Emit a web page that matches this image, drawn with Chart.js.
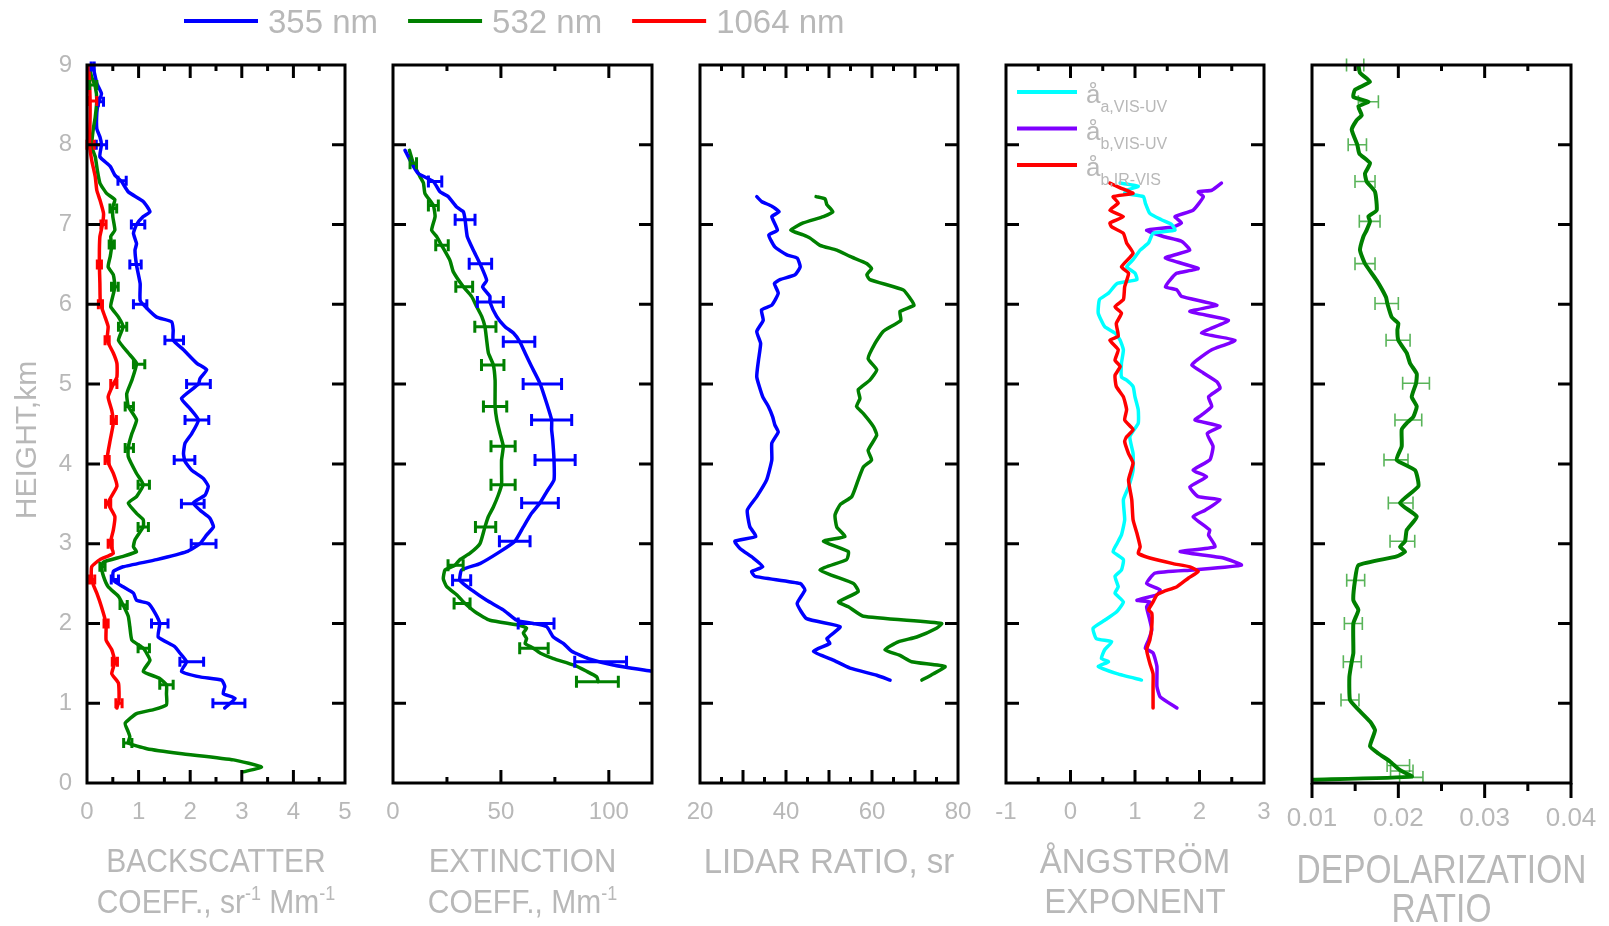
<!DOCTYPE html>
<html>
<head>
<meta charset="utf-8">
<title>Aerosol optical profiles</title>
<script src="https://cdn.jsdelivr.net/npm/chart.js@4.4.1/dist/chart.umd.min.js"></script>
<style>
  html, body { margin: 0; padding: 0; background: #ffffff; }
  #wrap { position: relative; width: 1609px; height: 926px; overflow: hidden; }
  #wrap canvas { position: absolute; left: 0; top: 0; }
</style>
</head>
<body>
<div id="wrap">
  <canvas id="pBsc" width="1700" height="926"></canvas>
  <canvas id="pExt" width="1700" height="926"></canvas>
  <canvas id="pLr" width="1700" height="926"></canvas>
  <canvas id="pAe" width="1700" height="926"></canvas>
  <canvas id="pDep" width="1700" height="926"></canvas>
</div>
<script>
// ---- tick labels ----
const heightTicks = [0, 1, 2, 3, 4, 5, 6, 7, 8, 9];
const bscTicks = [0, 1, 2, 3, 4, 5];
const extTicks = [0, 50, 100];
const lrTicks = [20, 40, 60, 80];
const aeTicks = [-1, 0, 1, 2, 3];
const depTicks = [0.01, 0.02, 0.03, 0.04];

// ---- profiles: [height km, value] ----
const bsc355 = [[9.0,0.11],[8.77,0.19],[8.64,0.28],[8.52,0.22],[8.4,0.19],[8.2,0.19],[8.1,0.25],[8.0,0.28],[7.85,0.25],[7.73,0.45],[7.62,0.54],[7.54,0.67],[7.41,0.80],[7.29,1.09],[7.16,1.22],[7.1,1.09],[7.0,0.96],[6.89,0.90],[6.76,0.96],[6.68,0.93],[6.49,0.96],[6.26,1.03],[6.05,1.03],[5.95,1.16],[5.84,1.35],[5.78,1.64],[5.68,1.67],[5.55,1.67],[5.43,1.87],[5.26,2.13],[5.18,2.32],[5.07,2.19],[5.0,2.16],[4.82,1.83],[4.69,2.0],[4.55,2.16],[4.38,2.03],[4.26,1.90],[4.13,1.87],[4.03,1.90],[3.92,2.03],[3.82,2.25],[3.72,2.35],[3.61,2.29],[3.51,2.06],[3.42,2.19],[3.32,2.38],[3.21,2.45],[3.11,2.32],[3.0,2.19],[2.90,1.93],[2.80,1.35],[2.71,0.70],[2.65,0.51],[2.54,0.51],[2.46,0.70],[2.38,0.90],[2.29,0.96],[2.25,1.19],[2.13,1.32],[2.0,1.41],[1.83,1.38],[1.71,1.70],[1.63,1.80],[1.52,1.93],[1.40,1.83],[1.33,2.19],[1.29,2.61],[1.21,2.67],[1.12,2.64],[1.06,2.87],[0.94,2.67]];
const bsc532 = [[9.0,0.03],[8.85,0.09],[8.73,0.16],[8.56,0.19],[8.35,0.16],[8.19,0.12],[7.98,0.09],[7.85,0.16],[7.68,0.20],[7.52,0.25],[7.39,0.38],[7.31,0.54],[7.22,0.50],[7.1,0.50],[6.93,0.54],[6.85,0.46],[6.74,0.48],[6.6,0.45],[6.47,0.41],[6.37,0.51],[6.22,0.54],[6.05,0.48],[5.97,0.46],[5.84,0.61],[5.72,0.70],[5.55,0.61],[5.39,0.80],[5.26,0.96],[5.05,0.87],[4.88,0.77],[4.72,0.80],[4.55,0.96],[4.38,0.87],[4.21,0.80],[4.09,0.80],[3.88,0.96],[3.74,1.09],[3.59,0.96],[3.51,0.80],[3.38,0.96],[3.30,1.09],[3.21,1.09],[3.05,0.93],[2.96,0.90],[2.90,0.96],[2.84,0.70],[2.77,0.32],[2.71,0.28],[2.59,0.32],[2.46,0.41],[2.34,0.61],[2.23,0.70],[2.09,0.80],[1.96,0.83],[1.79,0.87],[1.69,1.09],[1.54,1.22],[1.40,1.09],[1.31,1.41],[1.23,1.54],[1.12,1.54],[0.98,1.54],[0.92,1.29],[0.87,0.96],[0.75,0.74],[0.64,0.80],[0.58,0.83],[0.50,0.80],[0.43,1.16],[0.37,1.80],[0.29,2.84],[0.20,3.38],[0.14,3.03]];
const bsc1064 = [[9.0,0.03],[8.77,0.05],[8.56,0.06],[8.35,0.06],[8.0,0.05],[7.81,0.09],[7.6,0.16],[7.43,0.19],[7.31,0.25],[7.14,0.32],[7.0,0.30],[6.85,0.25],[6.68,0.24],[6.49,0.24],[6.26,0.25],[6.01,0.26],[5.84,0.35],[5.72,0.41],[5.55,0.39],[5.39,0.51],[5.26,0.58],[5.09,0.58],[5.0,0.51],[4.84,0.41],[4.67,0.48],[4.51,0.51],[4.30,0.45],[4.05,0.39],[3.88,0.51],[3.72,0.58],[3.51,0.41],[3.34,0.54],[3.17,0.51],[3.0,0.45],[2.88,0.51],[2.80,0.25],[2.71,0.09],[2.54,0.09],[2.38,0.19],[2.21,0.28],[2.0,0.37],[1.79,0.37],[1.67,0.48],[1.52,0.54],[1.37,0.48],[1.25,0.61],[1.04,0.62],[0.94,0.58]];

const ext355 = [[7.93,5.6],[7.77,8.6],[7.64,11.7],[7.54,18.7],[7.41,21.8],[7.35,25.6],[7.22,29.5],[7.16,32.6],[7.06,33.4],[6.85,34.4],[6.68,37.2],[6.51,40.3],[6.30,43.4],[6.22,41.5],[6.10,44.9],[6.03,44.9],[5.85,48.0],[5.72,51.9],[5.64,55.8],[5.53,58.8],[5.39,61.2],[5.22,64.2],[5.01,68.1],[4.76,71.2],[4.55,73.5],[4.43,73.5],[4.30,74.0],[4.05,74.6],[3.80,74.6],[3.65,71.2],[3.51,68.1],[3.38,64.2],[3.21,60.4],[3.03,56.5],[2.90,49.6],[2.75,40.3],[2.67,31.8],[2.54,31.0],[2.42,36.4],[2.29,43.4],[2.17,51.1],[2.04,57.3],[2.0,65.0],[1.96,71.2],[1.83,74.3],[1.75,78.9],[1.65,82.8],[1.56,90.5],[1.48,102.0],[1.40,119.8]];
const ext532 = [[7.93,7.6],[7.77,9.4],[7.6,12.5],[7.52,14.1],[7.39,14.8],[7.24,18.7],[7.1,19.5],[6.93,17.9],[6.85,20.2],[6.74,22.5],[6.55,26.4],[6.41,27.9],[6.22,32.6],[6.10,36.4],[5.97,38.8],[5.85,41.1],[5.72,42.6],[5.55,43.4],[5.39,44.2],[5.24,46.5],[5.05,47.3],[4.88,47.3],[4.72,47.3],[4.55,48.1],[4.38,49.6],[4.22,51.1],[4.05,50.3],[3.88,50.3],[3.74,50.3],[3.61,48.8],[3.46,46.5],[3.34,44.2],[3.21,42.6],[3.0,40.3],[2.88,35.7],[2.80,31.0],[2.73,28.7],[2.67,24.1],[2.56,23.3],[2.46,24.9],[2.36,29.5],[2.25,33.4],[2.13,38.8],[2.04,44.9],[1.98,58.1],[1.94,61.9],[1.88,60.4],[1.81,61.9],[1.75,61.2],[1.69,65.0],[1.63,68.1],[1.56,74.3],[1.48,83.6],[1.40,89.7],[1.33,94.4],[1.27,95.1]];

const lr355 = [[7.35,33.2],[7.29,34.3],[7.23,36.7],[7.16,38.4],[7.10,36.7],[6.93,38.0],[6.87,36.0],[6.72,37.4],[6.62,40.2],[6.58,42.6],[6.47,43.3],[6.37,42.1],[6.31,38.6],[6.26,37.3],[6.14,38.2],[5.99,36.7],[5.93,34.3],[5.80,34.7],[5.66,33.2],[5.51,34.1],[5.30,33.6],[5.09,33.2],[4.84,34.6],[4.72,35.9],[4.59,36.9],[4.49,37.4],[4.40,38.2],[4.26,36.7],[4.05,36.7],[3.80,35.5],[3.59,33.2],[3.42,31.0],[3.21,31.6],[3.09,33.0],[3.03,28.1],[2.94,29.3],[2.82,32.4],[2.71,34.6],[2.65,32.0],[2.59,32.8],[2.50,43.3],[2.42,44.4],[2.25,42.6],[2.06,44.8],[1.96,52.6],[1.81,49.5],[1.75,50.2],[1.65,46.4],[1.54,51.0],[1.44,54.9],[1.35,61.1],[1.29,64.2]];
const lr532 = [[7.35,47.0],[7.32,49.1],[7.25,49.5],[7.16,50.9],[7.10,48.7],[7.02,44.0],[6.93,41.1],[6.87,44.0],[6.83,45.6],[6.74,47.9],[6.68,51.8],[6.60,54.9],[6.51,58.8],[6.45,59.9],[6.37,58.8],[6.31,59.5],[6.18,67.3],[6.08,68.8],[5.99,69.8],[5.91,66.5],[5.80,66.7],[5.66,62.6],[5.51,60.7],[5.32,59.1],[5.18,61.1],[5.05,59.5],[4.93,56.8],[4.82,57.2],[4.72,56.4],[4.63,58.0],[4.47,60.3],[4.36,61.1],[4.17,59.1],[4.05,59.9],[3.96,58.0],[3.80,56.8],[3.59,55.3],[3.49,52.6],[3.36,51.4],[3.21,51.8],[3.09,53.7],[3.03,48.7],[2.90,54.5],[2.80,54.1],[2.67,47.9],[2.50,55.7],[2.40,56.8],[2.27,52.2],[2.21,54.5],[2.09,58.0],[2.0,76.2],[1.94,75.0],[1.83,70.4],[1.77,66.1],[1.67,63.0],[1.60,66.5],[1.52,69.2],[1.46,77.0],[1.37,74.3],[1.29,71.6]];

const aeExtVisUv = [[7.52,0.77],[7.48,1.05],[7.43,0.87],[7.39,0.84],[7.35,1.13],[7.27,1.16],[7.14,1.23],[7.06,1.41],[7.0,1.57],[6.93,1.62],[6.89,1.28],[6.77,1.21],[6.68,1.08],[6.56,0.97],[6.47,0.87],[6.39,1.0],[6.31,1.03],[6.26,0.72],[6.14,0.59],[6.06,0.45],[5.89,0.43],[5.72,0.53],[5.64,0.69],[5.55,0.77],[5.43,0.82],[5.26,0.79],[5.09,0.79],[5.05,0.87],[4.97,0.97],[4.84,1.0],[4.68,1.05],[4.51,1.05],[4.34,0.92],[4.13,0.97],[3.92,0.97],[3.71,0.90],[3.55,0.82],[3.30,0.84],[3.11,0.79],[3.0,0.72],[2.90,0.66],[2.80,0.82],[2.67,0.79],[2.59,0.69],[2.46,0.74],[2.38,0.69],[2.27,0.82],[2.15,0.72],[2.04,0.53],[1.94,0.35],[1.81,0.40],[1.77,0.64],[1.67,0.53],[1.56,0.48],[1.52,0.59],[1.46,0.43],[1.37,0.72],[1.29,1.10]];
const aeBscVisUv = [[7.52,2.34],[7.43,2.19],[7.41,1.98],[7.35,2.06],[7.18,1.90],[7.10,1.62],[7.02,1.72],[6.97,1.59],[6.93,1.18],[6.85,1.44],[6.79,1.72],[6.68,1.85],[6.58,1.47],[6.45,1.98],[6.39,1.65],[6.33,1.57],[6.22,1.47],[6.18,1.65],[6.10,1.72],[5.99,2.27],[5.91,1.85],[5.80,2.45],[5.64,2.03],[5.55,2.55],[5.43,2.19],[5.30,1.96],[5.24,1.88],[5.14,2.06],[5.03,2.27],[4.95,2.32],[4.84,2.14],[4.72,2.19],[4.61,2.03],[4.55,1.93],[4.47,2.32],[4.38,2.12],[4.22,2.21],[4.05,2.16],[3.92,1.90],[3.84,2.11],[3.71,1.85],[3.59,1.98],[3.55,2.32],[3.42,2.09],[3.34,1.90],[3.17,2.16],[3.11,2.14],[2.96,2.24],[2.90,1.70],[2.82,2.37],[2.73,2.65],[2.67,1.90],[2.63,1.31],[2.50,1.18],[2.42,1.39],[2.36,1.34],[2.29,1.03],[2.27,1.23],[2.21,1.18],[2.04,1.23],[1.92,1.26],[1.79,1.21],[1.69,1.16],[1.63,1.28],[1.46,1.34],[1.21,1.34],[1.08,1.39],[0.94,1.65]];
const aeBscIrVis = [[7.52,0.61],[7.46,0.77],[7.39,0.97],[7.35,0.66],[7.27,0.74],[7.18,0.61],[7.10,0.82],[7.02,0.61],[6.97,0.64],[6.89,0.82],[6.77,0.87],[6.64,0.97],[6.47,0.79],[6.39,0.90],[6.22,0.84],[6.06,0.82],[5.97,0.69],[5.89,0.79],[5.76,0.71],[5.60,0.74],[5.55,0.61],[5.43,0.74],[5.30,0.69],[5.22,0.77],[5.11,0.69],[4.97,0.71],[4.84,0.82],[4.68,0.87],[4.55,0.84],[4.43,0.97],[4.34,0.87],[4.28,0.84],[4.13,0.90],[4.01,0.97],[3.80,0.90],[3.55,0.95],[3.30,0.97],[3.13,1.03],[2.96,1.08],[2.88,1.05],[2.82,1.23],[2.75,1.59],[2.71,1.85],[2.65,1.98],[2.57,1.83],[2.46,1.65],[2.40,1.44],[2.36,1.34],[2.27,1.28],[2.17,1.21],[2.13,1.26],[1.96,1.26],[1.79,1.23],[1.67,1.18],[1.50,1.23],[1.37,1.28],[1.21,1.28],[0.94,1.28]];

const dep532 = [[9.0,0.01537],[8.90,0.01556],[8.79,0.01672],[8.69,0.01498],[8.60,0.01479],[8.54,0.01653],[8.48,0.01537],[8.37,0.01576],[8.31,0.01518],[8.19,0.01460],[8.0,0.01525],[7.89,0.01548],[7.77,0.01672],[7.64,0.01614],[7.54,0.01633],[7.41,0.01730],[7.18,0.01749],[7.10,0.01653],[7.04,0.01672],[6.93,0.01633],[6.85,0.01595],[6.68,0.01556],[6.51,0.01614],[6.30,0.01749],[6.09,0.01857],[6.01,0.01873],[5.84,0.01923],[5.76,0.02000],[5.68,0.01989],[5.55,0.02000],[5.39,0.02097],[5.26,0.02136],[5.13,0.02213],[5.01,0.02205],[4.84,0.02155],[4.72,0.02213],[4.59,0.02174],[4.51,0.02097],[4.43,0.02039],[4.22,0.02039],[4.05,0.01981],[3.92,0.02194],[3.72,0.02232],[3.51,0.02020],[3.34,0.02213],[3.17,0.02097],[3.03,0.02078],[2.96,0.02020],[2.90,0.02078],[2.84,0.01981],[2.73,0.01537],[2.54,0.01498],[2.29,0.01479],[2.17,0.01537],[2.0,0.01479],[1.63,0.01479],[1.52,0.01460],[1.33,0.01433],[1.04,0.01440],[0.92,0.01537],[0.77,0.01672],[0.66,0.01730],[0.46,0.01672],[0.37,0.01769],[0.27,0.01904],[0.16,0.02020],[0.08,0.02155],[0.04,0.0098]];

// ---- uncertainties: [height km, value, half-width] ----
const bsc355Err = [[8.98,0.11,0.03],[8.54,0.27,0.05],[8.0,0.28,0.10],[7.55,0.68,0.08],[7.0,0.99,0.13],[6.5,0.94,0.11],[6.0,1.03,0.13],[5.55,1.69,0.18],[5.0,2.16,0.23],[4.55,2.13,0.23],[4.05,1.89,0.20],[3.5,2.05,0.22],[3.0,2.26,0.24],[2.55,0.54,0.07],[2.0,1.41,0.16],[1.52,2.03,0.23],[1.0,2.75,0.31]];
const bsc532Err = [[8.75,0.12,0.07],[7.2,0.51,0.065],[6.75,0.48,0.05],[6.22,0.54,0.065],[5.72,0.69,0.08],[5.25,1.01,0.11],[4.72,0.82,0.08],[4.2,0.82,0.08],[3.74,1.10,0.11],[3.21,1.09,0.10],[2.71,0.30,0.05],[2.23,0.71,0.07],[1.69,1.10,0.11],[1.23,1.54,0.13],[0.5,0.79,0.08]];
const bsc1064Err = [[8.55,0.10,0.09],[8.0,0.07,0.07],[7.0,0.32,0.05],[6.5,0.24,0.04],[6.0,0.26,0.04],[5.55,0.39,0.04],[5.0,0.52,0.06],[4.55,0.52,0.05],[4.05,0.39,0.04],[3.5,0.41,0.05],[3.0,0.45,0.04],[2.55,0.10,0.05],[2.0,0.37,0.04],[1.52,0.54,0.05],[1.0,0.62,0.06]];
const ext355Err = [[7.54,19.5,3.1],[7.06,33.4,4.6],[6.51,40.5,5.2],[6.03,45.1,6.0],[5.53,58.4,7.3],[5.0,69.2,8.9],[4.55,73.5,9.3],[4.05,75.1,9.3],[3.51,68.1,8.5],[3.03,56.4,7.1],[2.54,31.8,4.2],[2.0,66.3,8.3],[1.52,96.2,12.0]];
const ext532Err = [[7.77,9.4,1.5],[7.24,18.7,2.3],[6.74,22.7,2.9],[6.22,33.0,3.9],[5.72,42.8,4.9],[5.24,46.2,5.2],[4.72,47.3,5.4],[4.22,51.0,5.6],[3.74,51.0,5.6],[3.21,42.9,4.7],[2.73,29.0,3.5],[2.25,32.0,3.7],[1.69,65.3,6.6],[1.27,94.7,9.7]];
const dep532Err = [[9.0,0.0150,0.0010],[8.54,0.01653,0.00116],[8.0,0.01525,0.00106],[7.54,0.01614,0.00116],[7.04,0.01668,0.0012],[6.51,0.01614,0.00116],[6.01,0.01865,0.00135],[5.55,0.01997,0.00139],[5.01,0.02205,0.00155],[4.55,0.02116,0.00155],[4.05,0.01973,0.00139],[3.51,0.02027,0.00143],[3.03,0.02047,0.00143],[2.54,0.01506,0.00104],[2.0,0.01479,0.00104],[1.52,0.01467,0.00104],[1.04,0.0144,0.00104],[0.22,0.0200,0.0013],[0.15,0.0204,0.0013],[0.07,0.0215,0.00135]];

// ---- styling ----
const CANVAS_W = 1700;
const GRAY = '#b8b8b8';
const FONT = "'Liberation Sans', Arial, Helvetica, sans-serif";
const BLUE = '#0000ff', GREEN = '#008000', RED = '#ff0000', CYAN = '#00ffff', VIOLET = '#7f00ff';

// Draws a run of text pieces; objects {sup} / {sub} are set smaller and shifted.
function richWidth(ctx, segs, size) {
  let w = 0;
  segs.forEach(s => {
    if (typeof s === 'string') { ctx.font = size + 'px ' + FONT; w += ctx.measureText(s).width; }
    else { ctx.font = (s.size || Math.round(size * 0.6)) + 'px ' + FONT; w += ctx.measureText(s.sup || s.sub).width; }
  });
  return w;
}
function drawRich(ctx, segs, x, baseline, size, align) {
  const w = richWidth(ctx, segs, size);
  let cx = align === 'center' ? x - w / 2 : x;
  ctx.textAlign = 'left';
  ctx.textBaseline = 'alphabetic';
  segs.forEach(s => {
    if (typeof s === 'string') {
      ctx.font = size + 'px ' + FONT;
      ctx.fillText(s, cx, baseline);
      cx += ctx.measureText(s).width;
    } else {
      const fs = s.size || Math.round(size * 0.6);
      ctx.font = fs + 'px ' + FONT;
      const t = s.sup || s.sub;
      const dy = s.sup ? -size * 0.40 : (s.dy != null ? s.dy : size * 0.35);
      ctx.fillText(t, cx, baseline + dy);
      cx += ctx.measureText(t).width;
    }
  });
}

// Box around the plot area with inward tick marks on all sides.
const framePlugin = {
  id: 'frame',
  afterDraw(chart, args, o) {
    const { ctx, chartArea: a, scales: { x, y } } = chart;
    ctx.save();
    ctx.strokeStyle = '#000';
    ctx.lineWidth = 3;
    ctx.lineCap = 'butt';
    const n = Math.round((x.max - x.min) / o.xMinor);
    for (let i = 0; i <= n; i++) {
      const v = x.min + i * o.xMinor;
      const r = v / o.xMajor;
      const major = Math.abs(r - Math.round(r)) < 1e-6;
      const px = x.getPixelForValue(v);
      ctx.beginPath();
      if (i > 0 && i < n) {
        const len = major ? o.long : o.short;
        ctx.moveTo(px, a.top); ctx.lineTo(px, a.top + len);
        if (!o.bottomOut) { ctx.moveTo(px, a.bottom); ctx.lineTo(px, a.bottom - len); }
      }
      if (o.bottomOut) {
        ctx.moveTo(px, a.bottom); ctx.lineTo(px, a.bottom + (major ? o.outLong : o.outShort));
      }
      ctx.stroke();
    }
    for (let k = 1; k < 9; k++) {
      const py = y.getPixelForValue(k);
      ctx.beginPath();
      ctx.moveTo(a.left, py); ctx.lineTo(a.left + o.long, py);
      ctx.moveTo(a.right, py); ctx.lineTo(a.right - o.long, py);
      ctx.stroke();
    }
    ctx.strokeRect(a.left, a.top, a.right - a.left, a.bottom - a.top);
    ctx.restore();
  }
};

// Horizontal uncertainty bars with end caps.
const errorBarPlugin = {
  id: 'errorBars',
  afterDatasetsDraw(chart, args, o) {
    const { ctx, scales: { x, y } } = chart;
    ctx.save();
    (o.sets || []).forEach(s => {
      ctx.strokeStyle = s.color;
      ctx.lineWidth = s.width;
      s.data.forEach(([h, v, e]) => {
        const py = y.getPixelForValue(h);
        const x0 = x.getPixelForValue(v - e), x1 = x.getPixelForValue(v + e);
        ctx.beginPath();
        ctx.moveTo(x0, py); ctx.lineTo(x1, py);
        ctx.moveTo(x0, py - s.cap / 2); ctx.lineTo(x0, py + s.cap / 2);
        ctx.moveTo(x1, py - s.cap / 2); ctx.lineTo(x1, py + s.cap / 2);
        ctx.stroke();
      });
    });
    ctx.restore();
  }
};

// Axis titles below each panel (and the rotated height title).
const titlePlugin = {
  id: 'titles',
  afterDraw(chart, args, o) {
    const { ctx, chartArea: a } = chart;
    ctx.save();
    ctx.fillStyle = GRAY;
    (o.items || []).forEach(it => {
      const cx = it.x != null ? it.x : (a.left + a.right) / 2;
      const sy = it.stretch || 1;
      ctx.save();
      ctx.translate(cx, it.y);
      if (it.rotate) ctx.rotate(it.rotate);
      ctx.scale(1, sy);
      drawRich(ctx, it.segs, 0, it.size * 0.36, it.size, 'center');
      ctx.restore();
    });
    ctx.restore();
  }
};

// Line-sample legend built from the chart's own datasets.
const keyPlugin = {
  id: 'key',
  afterDraw(chart, args, o) {
    if (!o || !o.mode) return;
    const { ctx } = chart;
    ctx.save();
    let x = o.x, y = o.y;
    chart.data.datasets.forEach(ds => {
      ctx.strokeStyle = ds.borderColor;
      ctx.lineWidth = o.lineWidth;
      ctx.lineCap = 'butt';
      ctx.beginPath();
      ctx.moveTo(x, y); ctx.lineTo(x + o.lineLen, y);
      ctx.stroke();
      ctx.fillStyle = GRAY;
      const segs = [ds.label];
      if (ds.labelSub) segs.push({ sub: ds.labelSub, size: o.subSize, dy: o.subDy });
      const tx = x + o.lineLen + o.textGap;
      drawRich(ctx, segs, tx, y + o.baseOffset, o.size, 'left');
      if (o.mode === 'row') {
        x = tx + richWidth(ctx, segs, o.size) + o.itemGap;
      } else {
        y += o.rowGap;
      }
    });
    ctx.restore();
  }
};

function profilePanel(id, cfg) {
  const yScale = {
    type: 'linear', position: 'left', min: 0, max: 9,
    display: !!cfg.yLabels,
    afterBuildTicks: s => { s.ticks = heightTicks.map(v => ({ value: v })); },
    grid: { display: false, drawTicks: false },
    border: { display: false },
    ticks: { color: GRAY, font: { family: FONT, size: 24 }, padding: 15 }
  };
  if (cfg.yLabels) yScale.afterFit = s => { s.width = cfg.left; };
  return new Chart(document.getElementById(id), {
    type: 'scatter',
    data: {
      datasets: cfg.series.map(s => ({
        label: s.label,
        labelSub: s.sub,
        data: s.data.map(([h, v]) => ({ x: v, y: h })),
        showLine: true,
        borderColor: s.color,
        backgroundColor: s.color,
        borderWidth: s.width || 3.5,
        pointRadius: 0,
        pointHoverRadius: 0,
        tension: 0.15,
        borderJoinStyle: 'round',
        borderCapStyle: 'round',
        order: s.order || 0
      }))
    },
    options: {
      responsive: false,
      animation: false,
      devicePixelRatio: 1,
      events: [],
      layout: { padding: { left: cfg.yLabels ? 0 : cfg.left, right: CANVAS_W - cfg.right, top: 65, bottom: 926 - 783 - 60 } },
      plugins: {
        legend: { display: false },
        tooltip: { enabled: false },
        frame: cfg.frame,
        errorBars: { sets: cfg.errors || [] },
        titles: { items: cfg.titles },
        key: cfg.key || {}
      },
      scales: {
        x: {
          type: 'linear', position: 'bottom', min: cfg.xMin, max: cfg.xMax,
          afterFit: s => { s.height = 60; },
          afterBuildTicks: s => { s.ticks = cfg.xTicks.map(v => ({ value: v })); },
          grid: { display: false, drawTicks: false },
          border: { display: false },
          ticks: {
            color: GRAY, font: { family: FONT, size: cfg.tickSize || 24 },
            padding: cfg.tickPad || 15, maxRotation: 0, autoSkip: false,
            callback: cfg.fmt || (v => String(v))
          }
        },
        y: yScale
      }
    },
    plugins: [errorBarPlugin, framePlugin, titlePlugin, keyPlugin]
  });
}

const titleSize = 30;

profilePanel('pBsc', {
  left: 87, right: 345, xMin: 0, xMax: 5, xTicks: bscTicks, yLabels: true,
  frame: { xMinor: 0.5, xMajor: 1, long: 13, short: 6 },
  series: [
    { label: '355 nm', data: bsc355, color: BLUE, order: 2 },
    { label: '532 nm', data: bsc532, color: GREEN, order: 1 },
    { label: '1064 nm', data: bsc1064, color: RED, order: 0 }
  ],
  errors: [
    { data: bsc355Err, color: BLUE, width: 3, cap: 10 },
    { data: bsc532Err, color: GREEN, width: 3, cap: 10 },
    { data: bsc1064Err, color: RED, width: 3, cap: 10 }
  ],
  titles: [
    { segs: ['BACKSCATTER'], y: 860, size: titleSize, stretch: 1.1 },
    { segs: ['COEFF., sr', { sup: '-1' }, ' Mm', { sup: '-1' }], y: 901, size: titleSize, stretch: 1.1 },
    { segs: ['HEIGHT,km'], x: 25, y: 440, size: titleSize, rotate: -Math.PI / 2 }
  ],
  key: { mode: 'row', x: 184, y: 21, lineLen: 74, textGap: 10, itemGap: 30, size: 33, lineWidth: 4, baseOffset: 12 }
});

profilePanel('pExt', {
  left: 393, right: 652, xMin: 0, xMax: 120, xTicks: extTicks,
  frame: { xMinor: 25, xMajor: 50, long: 13, short: 6 },
  series: [
    { label: '355 nm', data: ext355, color: BLUE, order: 0 },
    { label: '532 nm', data: ext532, color: GREEN, order: 1 }
  ],
  errors: [
    { data: ext532Err, color: GREEN, width: 3, cap: 12 },
    { data: ext355Err, color: BLUE, width: 3, cap: 12 }
  ],
  titles: [
    { segs: ['EXTINCTION'], y: 860, size: 31, stretch: 1.1 },
    { segs: ['COEFF., Mm', { sup: '-1' }], y: 901, size: titleSize, stretch: 1.1 }
  ]
});

profilePanel('pLr', {
  left: 700, right: 958, xMin: 20, xMax: 80, xTicks: lrTicks,
  frame: { xMinor: 5, xMajor: 10, long: 13, short: 6 },
  series: [
    { label: '355 nm', data: lr355, color: BLUE },
    { label: '532 nm', data: lr532, color: GREEN }
  ],
  titles: [
    { segs: ['LIDAR RATIO, sr'], y: 861, size: 33, stretch: 1.05 }
  ]
});

profilePanel('pAe', {
  left: 1006, right: 1264, xMin: -1, xMax: 3, xTicks: aeTicks,
  frame: { xMinor: 0.5, xMajor: 1, long: 13, short: 6 },
  series: [
    { label: 'å', sub: 'a,VIS-UV', data: aeExtVisUv, color: CYAN, order: 1 },
    { label: 'å', sub: 'b,VIS-UV', data: aeBscVisUv, color: VIOLET, order: 2 },
    { label: 'å', sub: 'b,IR-VIS', data: aeBscIrVis, color: RED, order: 0 }
  ],
  titles: [
    { segs: ['ÅNGSTRÖM'], y: 861, size: 33, stretch: 1.05 },
    { segs: ['EXPONENT'], y: 901, size: 33, stretch: 1.05 }
  ],
  key: { mode: 'column', x: 1017, y: 92, lineLen: 60, textGap: 9, rowGap: 36.5, size: 26, subSize: 16, subDy: 9, lineWidth: 4, baseOffset: 11 }
});

profilePanel('pDep', {
  left: 1312, right: 1571, xMin: 0.01, xMax: 0.04, xTicks: depTicks,
  tickSize: 26, tickPad: 20, fmt: v => v.toFixed(2),
  frame: { xMinor: 0.005, xMajor: 0.01, long: 13, short: 6, bottomOut: true, outLong: 15, outShort: 8 },
  series: [
    { label: '532 nm', data: dep532, color: GREEN, width: 4 }
  ],
  errors: [
    { data: dep532Err, color: 'rgba(0,140,0,0.65)', width: 1.6, cap: 13 }
  ],
  titles: [
    { segs: ['DEPOLARIZATION'], y: 869, size: 33.5, stretch: 1.2 },
    { segs: ['RATIO'], y: 908, size: 33.5, stretch: 1.2 }
  ]
});
</script>
</body>
</html>
